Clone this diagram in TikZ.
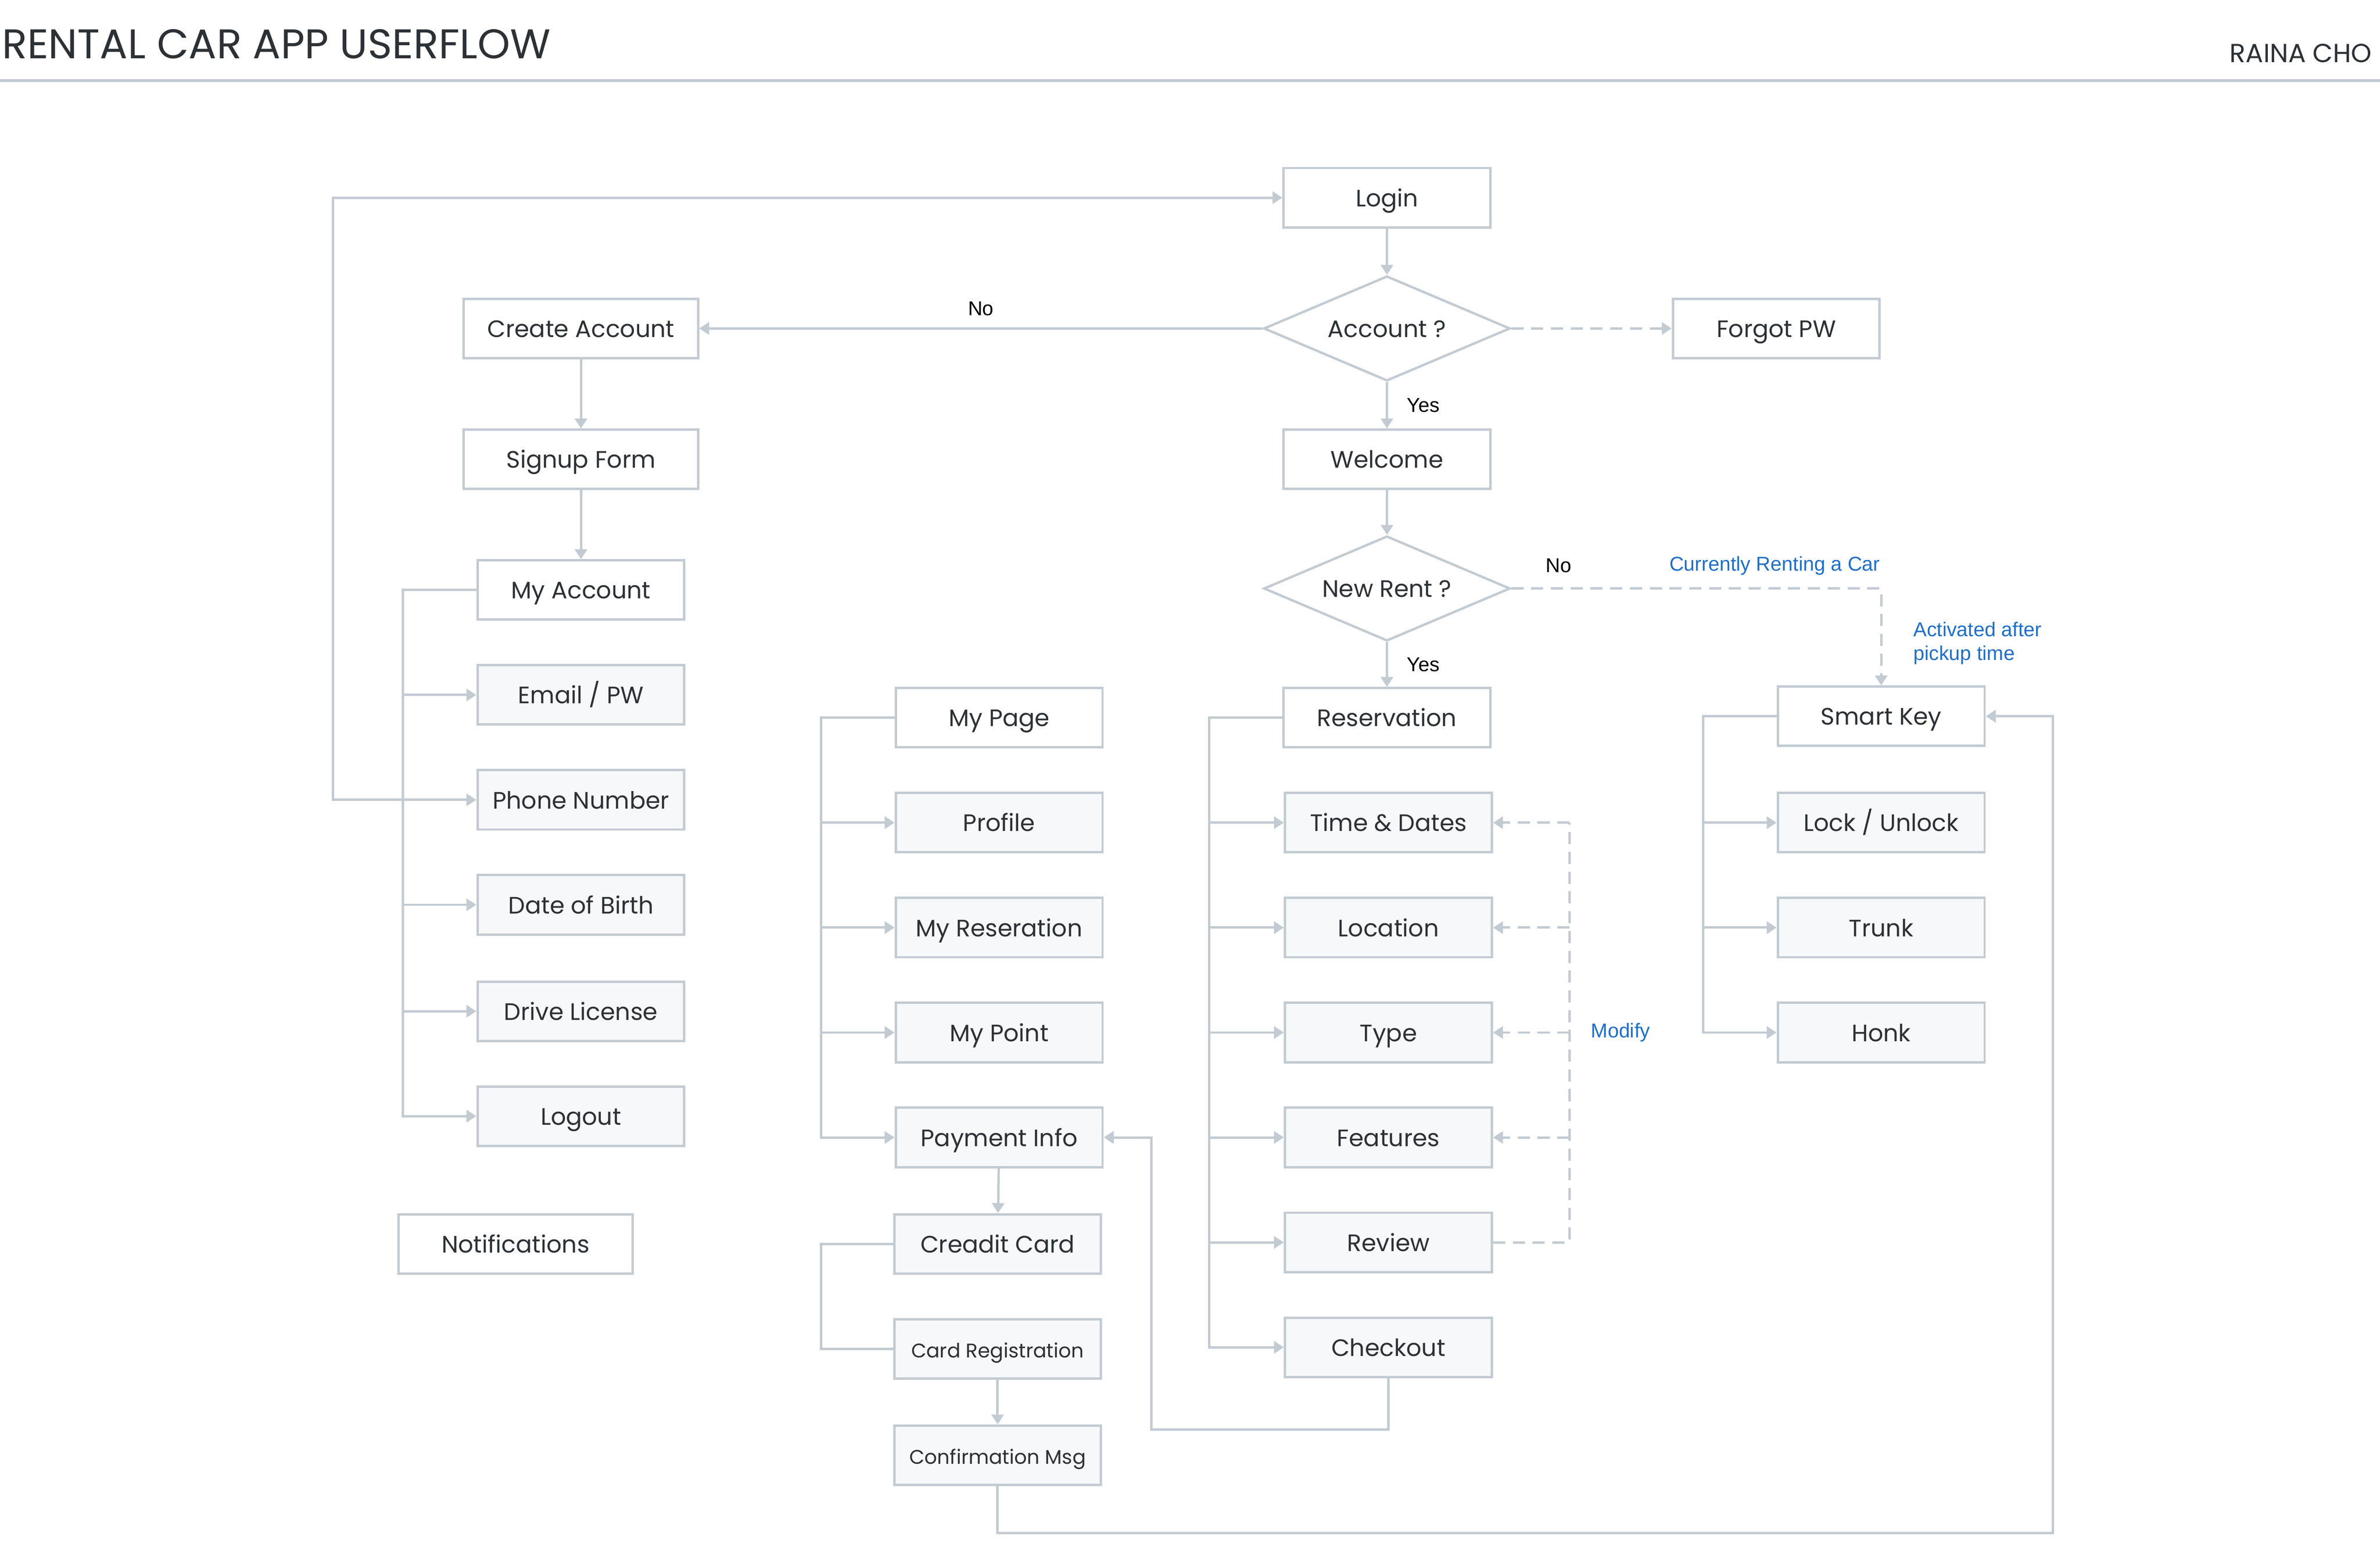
\documentclass[tikz,border=0pt]{standalone}
\usepackage{fontspec}
\setmainfont{Poppins}
\newfontfamily\notefont{Liberation Sans}
\usetikzlibrary{shapes,arrows,arrows.meta}
\definecolor{linegray}{HTML}{C3CBD2}
\definecolor{boxfill}{HTML}{F7F8FA}
\definecolor{txtdark}{HTML}{2C3136}
\definecolor{noteblue}{HTML}{1F6FC6}

\tikzset{
  box/.style={draw=linegray, line width=0.9pt, fill=white, minimum width=2.72cm,
    minimum height=0.78cm, inner sep=0pt, text=txtdark, text height=1.5ex, text depth=0.3ex,
    font=\fontsize{8.9}{10}\selectfont},
  subbox/.style={box, fill=boxfill},
  widebox/.style={minimum width=3.08cm},
  smalltext/.style={font=\fontsize{7.4}{9}\selectfont},
  decision/.style={diamond, draw=linegray, line width=0.9pt, fill=white, aspect=2.35,
    minimum width=3.24cm, minimum height=1.38cm, inner sep=0pt, text=txtdark,
    text height=1.5ex, text depth=0.3ex, font=\fontsize{8.9}{10}\selectfont},
  link/.style={draw=linegray, line width=0.9pt, >={Triangle[length=1.3mm,width=1.6mm]}},
  dlink/.style={link, dash pattern=on 1.6mm off 1mm},
  lbl/.style={font=\notefont\fontsize{7.5}{9}\selectfont, text=black},
  note/.style={font=\notefont\fontsize{7.5}{9}\selectfont, text=noteblue}
}

\begin{document}
\begin{tikzpicture}[x=0.2mm,y=-0.2mm]
    \pgfmathsetmacro{\xA}{382}
    \pgfmathsetmacro{\xP}{657}
    \pgfmathsetmacro{\xR}{912}
    \pgfmathsetmacro{\xK}{1237}

    \useasboundingbox (0,0) rectangle (1565,1014);

    % Header
    \node[anchor=west, inner sep=0pt, text=txtdark, font=\fontsize{15.5}{17}\selectfont] (title) at (1,29) {RENTAL CAR APP USERFLOW};
    \node[anchor=east, inner sep=0pt, text=txtdark, font=\fontsize{9.8}{12}\selectfont] (author) at (1560,35) {RAINA CHO};
    \draw [linegray, line width=1pt] (0,53) -- (1565,53);

    % Main flow
    \node[box] (login) at (\xR,130) {Login};
    \node[decision] (acct) at (\xR,216) {Account ?};
    \node[box] (forgot) at (1168,216) {Forgot PW};
    \node[box, widebox] (create) at (\xA,216) {Create Account};
    \node[box, widebox] (signup) at (\xA,302) {Signup Form};
    \node[box] (welcome) at (\xR,302) {Welcome};
    \node[decision] (rent) at (\xR,387) {New Rent ?};

    % My Account
    \node[box] (myacct) at (\xA,388) {My Account};
    \node[subbox] (email) at (\xA,457) {Email / PW};
    \node[subbox] (phone) at (\xA,526) {Phone Number};
    \node[subbox] (dob) at (\xA,595) {Date of Birth};
    \node[subbox] (license) at (\xA,665) {Drive License};
    \node[subbox] (logout) at (\xA,734) {Logout};
    \node[box, widebox] (notif) at (339,818) {Notifications};

    % My Page
    \node[box] (mypage) at (\xP,472) {My Page};
    \node[subbox] (profile) at (\xP,541) {Profile};
    \node[subbox] (myres) at (\xP,610) {My Reseration};
    \node[subbox] (mypoint) at (\xP,679) {My Point};
    \node[subbox] (payment) at (\xP,748) {Payment Info};
    \node[subbox] (credit) at (656,818) {Creadit Card};
    \node[subbox, smalltext] (cardreg) at (656,887) {Card Registration};
    \node[subbox, smalltext] (confirm) at (656,957) {Confirmation Msg};

    % Reservation
    \node[box] (resv) at (\xR,472) {Reservation};
    \node[subbox] (time) at (913,541) {Time \& Dates};
    \node[subbox] (loc) at (913,610) {Location};
    \node[subbox] (type) at (913,679) {Type};
    \node[subbox] (feat) at (913,748) {Features};
    \node[subbox] (review) at (913,817) {Review};
    \node[subbox] (checkout) at (913,886) {Checkout};

    % Smart Key
    \node[box] (key) at (\xK,471) {Smart Key};
    \node[subbox] (lock) at (\xK,541) {Lock / Unlock};
    \node[subbox] (trunk) at (\xK,610) {Trunk};
    \node[subbox] (honk) at (\xK,679) {Honk};

    % Turning points
    \coordinate (ta) at (265,388);
    \coordinate (loopL) at (219,526);
    \coordinate (tp) at (540,472);
    \coordinate (tc) at (540,818);
    \coordinate (tr) at (795,472);
    \coordinate (tk) at (1120,471);
    \coordinate (ck) at (757,940);
    \coordinate (cs) at (1350,1008);
    \coordinate (modtop) at (1032,541);
    \coordinate (modbot) at (1032,817);

    % Main connectors
    \draw [link,->] (login) -- (acct);
    \draw [link,->] (acct) -- node[lbl, yshift=2.6mm] (no1) {No} (create);
    \draw [dlink,->] (acct) -- (forgot);
    \draw [link,->] (acct) -- node[lbl, xshift=4.8mm] (yes1) {Yes} (welcome);
    \draw [link,->] (create) -- (signup);
    \draw [link,->] (signup) -- (myacct);
    \draw [link,->] (welcome) -- (rent);
    \draw [link,->] (rent) -- node[lbl, xshift=4.8mm] (yes2) {Yes} (resv);
    \draw [dlink,->] (rent.east) -| (key.north);
    \node[lbl] (no2) at (1025,372) {No};
    \node[note] (renting) at (1167,372) {Currently Renting a Car};
    \node[note, anchor=west, align=left] (activated) at (1252,423) {Activated after\\pickup time};

    % My Account tree
    \draw [link,->] (myacct.west) -- (ta) |- (logout.west);
    \foreach \n in {email,phone,dob,license}
        \draw [link,->] (ta |- \n) -- (\n.west);
    \draw [link,->] (ta |- phone) -- (loopL) |- (login.west);

    % My Page tree
    \draw [link,->] (mypage.west) -- (tp) |- (payment.west);
    \foreach \n in {profile,myres,mypoint}
        \draw [link,->] (tp |- \n) -- (\n.west);
    \draw [link,->] (payment) -- (credit);
    \draw [link] (credit.west) -- (tc) |- (cardreg.west);
    \draw [link,->] (cardreg) -- (confirm);
    \draw [link,->] (checkout.south) |- (ck) |- (payment.east);
    \draw [link,->] (confirm.south) |- (cs) |- (key.east);

    % Reservation tree
    \draw [link,->] (resv.west) -- (tr) |- (checkout.west);
    \foreach \n in {time,loc,type,feat,review}
        \draw [link,->] (tr |- \n) -- (\n.west);
    \draw [dlink] (review.east) -- (modbot) -- (modtop);
    \foreach \n in {time,loc,type,feat}
        \draw [dlink,->] (modtop |- \n) -- (\n.east);
    \node[note, anchor=west] (modify) at (1040,679) {Modify};

    % Smart Key tree
    \draw [link,->] (key.west) -- (tk) |- (honk.west);
    \foreach \n in {lock,trunk}
        \draw [link,->] (tk |- \n) -- (\n.west);

\end{tikzpicture}
\end{document}
